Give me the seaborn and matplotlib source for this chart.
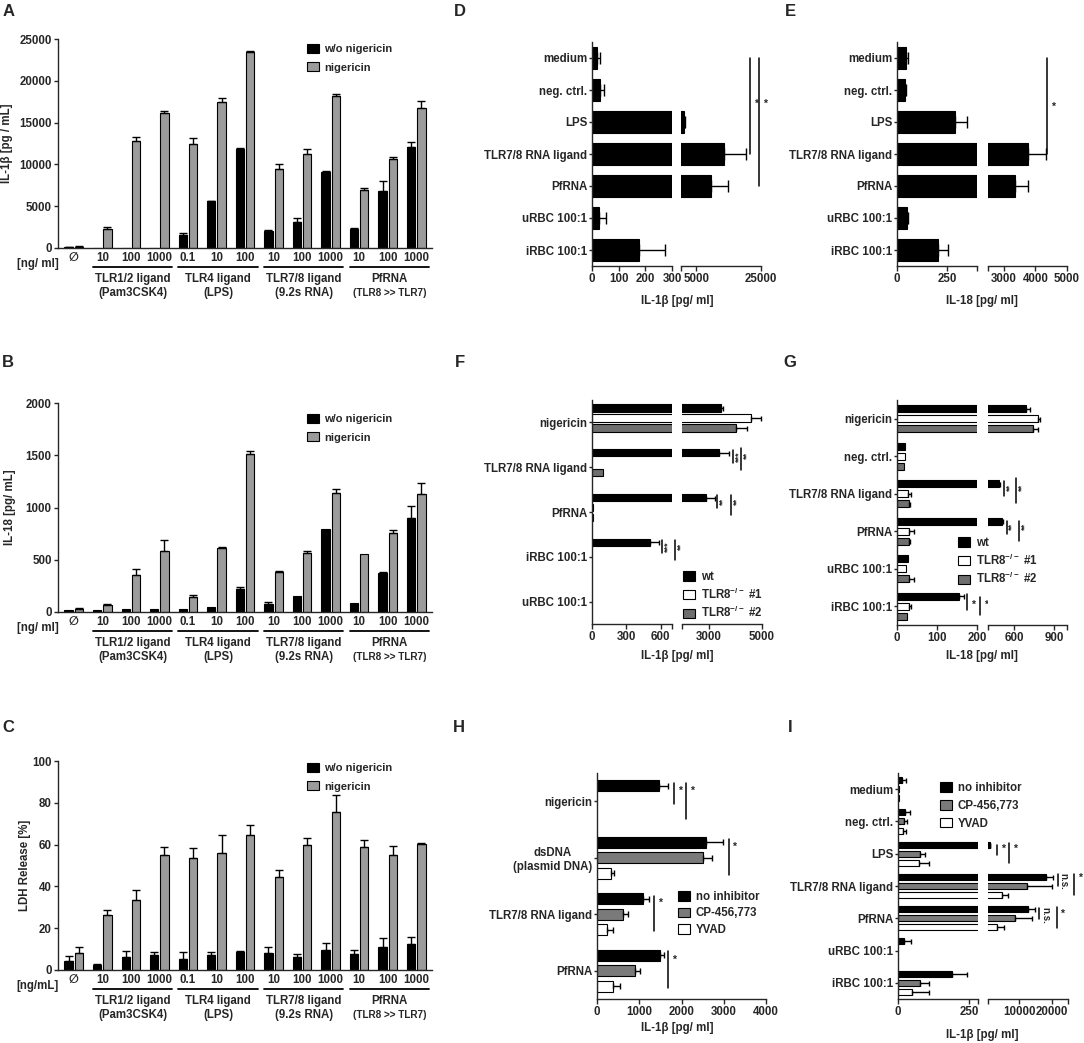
import numpy as np
import pandas as pd
import matplotlib
matplotlib.use('Agg')
import matplotlib.pyplot as plt
import matplotlib.transforms as mtransforms
from matplotlib.patches import Patch
import seaborn as sns

# ---------------- data ----------------
# A-C: 13 stimulation conditions, without / with nigericin
conditions = ['none', 'P10', 'P100', 'P1000', 'L0.1', 'L10', 'L100',
              'R10', 'R100', 'R1000', 'Pf10', 'Pf100', 'Pf1000']
conc_labels = ['\u2205', '10', '100', '1000', '0.1', '10', '100',
               '10', '100', '1000', '10', '100', '1000']
ligand_groups = [('TLR1/2 ligand', '(Pam3CSK4)'), ('TLR4 ligand', '(LPS)'),
                 ('TLR7/8 ligand', '(9.2s RNA)'), ('PfRNA', '(TLR8 >> TLR7)')]
treat_names = ['w/o nigericin', 'nigericin']

il1b_wo = [60, 0, 20, 30, 1600, 5600, 11900, 2000, 3100, 9100, 2300, 6800, 12100]
il1b_wo_sem = [30, 0, 0, 0, 250, 60, 60, 200, 500, 60, 100, 1200, 600]
il1b_nig = [150, 2300, 12800, 16100, 12400, 17500, 23500, 9400, 11300, 18200, 6900, 10600, 16800]
il1b_nig_sem = [60, 250, 500, 300, 800, 400, 60, 600, 500, 250, 250, 300, 800]

il18_wo = [15, 20, 25, 30, 25, 45, 220, 75, 150, 790, 85, 375, 900]
il18_wo_sem = [0, 0, 0, 0, 0, 0, 20, 20, 0, 0, 0, 10, 110]
il18_nig = [30, 65, 355, 585, 140, 615, 1510, 385, 560, 1140, 555, 760, 1125]
il18_nig_sem = [5, 10, 55, 105, 20, 5, 30, 5, 25, 35, 0, 20, 110]

ldh_wo = [4.5, 2.5, 6, 7, 5.5, 7, 8.5, 8, 6, 9.5, 7.5, 11, 12.5]
ldh_wo_sem = [2, 0.5, 3, 1.5, 3, 1.5, 0.5, 3, 1.5, 3.5, 2, 4.5, 3.5]
ldh_nig = [8, 26.5, 33.5, 55, 53.5, 56, 64.5, 44.5, 60, 75.5, 59, 55, 60.5]
ldh_nig_sem = [3, 2, 5, 4, 5, 8.5, 5, 3.5, 3, 8, 3, 4.5, 0.5]

# D / E: single series
stim_cats = ['medium', 'neg. ctrl.', 'LPS', 'TLR7/8 RNA ligand', 'PfRNA',
             'uRBC 100:1', 'iRBC 100:1']
d_il1b = [17, 29, 1300, 13500, 9500, 26, 178]
d_il1b_sem = [12, 17, 300, 6900, 5250, 25, 97]
e_il18 = [43, 40, 292, 3760, 3360, 51, 207]
e_il18_sem = [10, 7, 59, 580, 400, 2, 49]

# F / G: wt vs TLR8 knockouts
ko_names = ['wt', r'TLR8$^{-/-}$ #1', r'TLR8$^{-/-}$ #2']
f_cats = ['nigericin', 'TLR7/8 RNA ligand', 'PfRNA', 'iRBC 100:1', 'uRBC 100:1']
f_wt = [3460, 3400, 2900, 509, 0]
f_wt_sem = [80, 380, 340, 74, 0]
f_ko1 = [4600, 0, 6, 0, 0]
f_ko1_sem = [350, 0, 0, 0, 0]
f_ko2 = [4030, 92, 6, 0, 0]
f_ko2_sem = [390, 0, 0, 0, 0]

g_cats = ['nigericin', 'neg. ctrl.', 'TLR7/8 RNA ligand', 'PfRNA', 'uRBC 100:1', 'iRBC 100:1']
g_wt = [691, 21, 481, 506, 28, 154]
g_wt_sem = [25, 0, 13, 7, 0, 14]
g_ko1 = [780, 19, 28, 30, 23, 29]
g_ko1_sem = [17, 0, 8, 12, 0, 7]
g_ko2 = [739, 18, 29, 29, 29, 26]
g_ko2_sem = [38, 0, 3, 3, 13, 0]

# H / I: inhibitors
inh_names = ['no inhibitor', 'CP-456,773', 'YVAD']
h_cats = ['nigericin', 'dsDNA\n(plasmid DNA)', 'TLR7/8 RNA ligand', 'PfRNA']
h_none = [1470, 2580, 1100, 1480]
h_none_sem = [220, 410, 120, 95]
h_cp = [0, 2520, 605, 890]
h_cp_sem = [0, 210, 125, 135]
h_yvad = [0, 330, 235, 370]
h_yvad_sem = [0, 80, 135, 165]

i_none = [13, 25, 920, 18100, 12760, 21, 189]
i_none_sem = [14, 17, 100, 2400, 2160, 25, 54]
i_cp = [3, 21, 78, 12250, 8540, 0, 78]
i_cp_sem = [0, 12, 18, 7700, 5350, 0, 32]
i_yvad = [3, 18, 75, 4620, 3080, 0, 48]
i_yvad_sem = [0, 10, 35, 1760, 2160, 0, 62]

# ---------------- style ----------------
sns.set_style('ticks')
plt.rcParams['font.family'] = ['Liberation Sans', 'DejaVu Sans']
plt.rcParams['font.weight'] = 'bold'
plt.rcParams['axes.labelweight'] = 'bold'
plt.rcParams['font.size'] = 8.3
plt.rcParams['mathtext.fontset'] = 'custom'
plt.rcParams['mathtext.rm'] = 'Liberation Sans:bold'
plt.rcParams['mathtext.default'] = 'rm'
plt.rcParams['axes.linewidth'] = 1.0
plt.rcParams['xtick.major.width'] = 1.0
plt.rcParams['ytick.major.width'] = 1.0

W, H = 1084, 1043
fig = plt.figure(figsize=(W / 100, H / 100), dpi=100)


def add_ax(left, top, width, height):
    return fig.add_axes([left / W, 1 - (top + height) / H, width / W, height / H])


def legend_at(handles, x, y, size=8, spacing=0.5):
    fig.legend(handles=handles, loc='upper left', bbox_to_anchor=(x / W, 1 - y / H),
               frameon=False, fontsize=size, handlelength=1.05, handleheight=0.9,
               handletextpad=0.5, labelspacing=spacing, borderpad=0, borderaxespad=0)


def patches(names, colors):
    return [Patch(facecolor=c, edgecolor='black', linewidth=0.8, label=n)
            for n, c in zip(names, colors)]


col_colors = ['black', '#9b9b9b']


def column_panel(top, wo, wo_sem, nig, nig_sem, ymax, ystep, ylabel, unit, ylab_x):
    ax = add_ax(58, top, 374, 209)
    df = pd.DataFrame({'condition': conditions * 2,
                       'value': wo + nig,
                       'treatment': [treat_names[0]] * 13 + [treat_names[1]] * 13})
    sns.barplot(data=df, x='condition', y='value', hue='treatment', order=conditions,
                hue_order=treat_names, palette=col_colors, saturation=1,
                width=0.72, gap=0.2, edgecolor='black', linewidth=0.8,
                errorbar=None, legend=False, ax=ax)
    for cont, sems in zip(ax.containers, [wo_sem, nig_sem]):
        for bar in cont:
            xc = bar.get_x() + bar.get_width() / 2
            s = sems[int(round(xc))]
            if s > 0:
                ax.errorbar(xc, bar.get_height(), yerr=[[0], [s]], fmt='none',
                            ecolor='black', elinewidth=1.0, capsize=2.8, capthick=1.0)
    ax.set_xlim(-0.55, 12.55)
    ax.set_ylim(0, ymax)
    ax.set_yticks(np.arange(0, ymax + 1, ystep))
    ax.set_xticks(range(13))
    ax.set_xticklabels(conc_labels)
    ax.tick_params(axis='x', length=0, pad=3)
    ax.tick_params(axis='y', length=3, pad=1.5)
    ax.set_xlabel('')
    ax.set_ylabel(ylabel)
    ax.yaxis.set_label_coords(ylab_x, 0.5)
    sns.despine(ax=ax)

    trans = mtransforms.blended_transform_factory(ax.transData, ax.transAxes)
    ax.text(0.003, -16 / 209, unit, transform=ax.transAxes, ha='right', va='center')
    for g, (name, sub) in enumerate(ligand_groups):
        a, b = 3 * g + 1, 3 * g + 3
        ax.plot([a - 0.33, b + 0.45], [-19 / 209, -19 / 209], color='black', lw=1.3,
                transform=trans, clip_on=False)
        cx = (a + b) / 2 + 0.06
        ax.text(cx, -31 / 209, name, transform=trans, ha='center', va='center')
        ax.text(cx, -45 / 209, sub, transform=trans, ha='center', va='center',
                fontsize=7.2 if g == 3 else 8.3)
    return ax


def hbar_panel(top, bottom, segs, cats, series, sems, names, colors, width, gap, cap,
               off=0.0):
    n = len(cats)
    axes = []
    for k, (x0, x1, lo, hi, ticks, labels) in enumerate(segs):
        ax = add_ax(x0, top, x1 - x0, bottom - top)
        if names is None:
            df = pd.DataFrame({'cat': cats, 'value': series[0]})
            sns.barplot(data=df, x='value', y='cat', order=cats, orient='h',
                        color=colors[0], saturation=1, width=width,
                        edgecolor='black', linewidth=0.8, errorbar=None, ax=ax)
        else:
            df = pd.DataFrame({'cat': cats * len(names),
                               'value': [v for s in series for v in s],
                               'group': np.repeat(names, n)})
            sns.barplot(data=df, x='value', y='cat', hue='group', order=cats,
                        hue_order=names, orient='h', palette=colors, saturation=1,
                        width=width, gap=gap, edgecolor='black', linewidth=0.8,
                        errorbar=None, legend=False, ax=ax)
        for cont, sem in zip(ax.containers, sems):
            for bar in cont:
                yc = bar.get_y() + bar.get_height() / 2
                v = bar.get_width()
                s = sem[int(round(yc))]
                if v <= lo:
                    # bar lies entirely below this axis segment
                    bar.set_visible(False)
                # only draw the error bar on the segment it falls in
                if s > 0 and v + s > lo and v < hi:
                    ax.errorbar(v, yc, xerr=[[0], [s]], fmt='none',
                                ecolor='black', elinewidth=1.0, capsize=cap, capthick=1.0)
        ax.set_xlim(lo, hi)
        ax.set_ylim(n - 0.5 + off, -0.5 + off)
        ax.set_xticks(ticks)
        ax.set_xticklabels(labels)
        ax.tick_params(axis='x', length=3.5, pad=1.5)
        ax.set_xlabel('')
        ax.set_ylabel('')
        sns.despine(ax=ax)
        if k == 0:
            ax.set_yticks(np.arange(n) + off)
            ax.set_yticklabels(cats)
            ax.tick_params(axis='y', length=2.5, pad=1)
            for t in ax.get_yticklabels():
                t.set_multialignment('center')
        else:
            ax.set_yticks([])
            ax.spines['left'].set_visible(False)
        axes.append(ax)
    return axes


def sig(ax, x, y0, y1, label, ty, rot=0, size=7.5):
    ax.plot([x, x], [y0, y1], color='black', lw=1.1, clip_on=False)
    ax.annotate(label, xy=(x, ty), xytext=(4.2, 0), textcoords='offset points',
                ha='center', va='center', rotation=rot, fontsize=size,
                annotation_clip=False)


# ---------------- A-C ----------------
column_panel(39, il1b_wo, il1b_wo_sem, il1b_nig, il1b_nig_sem, 25000, 5000,
             'IL-1\u03b2 [pg / mL]', '[ng/ ml]', -0.120)
legend_at(patches(treat_names, col_colors), 307, 44, spacing=0.7)
column_panel(403, il18_wo, il18_wo_sem, il18_nig, il18_nig_sem, 2000, 500,
             'IL-18 [pg/ mL]', '[ng/ ml]', -0.112)
legend_at(patches(treat_names, col_colors), 307, 414, spacing=0.7)
column_panel(761, ldh_wo, ldh_wo_sem, ldh_nig, ldh_nig_sem, 100, 20,
             'LDH Release [%]', '[ng/mL]', -0.072)
legend_at(patches(treat_names, col_colors), 307, 763, spacing=0.7)

# ---------------- D ----------------
d_axes = hbar_panel(42, 266,
                    [(592, 672, 0, 300, [0, 100, 200, 300], ['0', '100', '200', '300']),
                     (681, 761, 300, 25000, [300, 5000, 25000], ['', '5000', '25000'])],
                    stim_cats, [d_il1b], [d_il1b_sem], None, ['black'], 0.69, 0, 4.5)
sig(d_axes[1], 21600, 0, 3, '*', 1.43)
sig(d_axes[1], 24500, 0, 4, '*', 1.43)
fig.text(677 / W, 1 - 301 / H, 'IL-1\u03b2 [pg/ ml]', ha='center', va='center')

# ---------------- E ----------------
e_axes = hbar_panel(42, 266,
                    [(897, 977, 0, 400, [0, 250, 400], ['0', '250', '']),
                     (988, 1067, 2500, 5000, [2500, 3000, 4000, 5000],
                      ['', '3000', '4000', '5000'])],
                    stim_cats, [e_il18], [e_il18_sem], None, ['black'], 0.69, 0, 4.5)
sig(e_axes[1], 4380, 0, 3, '*', 1.52)
fig.text(982 / W, 1 - 301 / H, 'IL-18 [pg/ ml]', ha='center', va='center')

# ---------------- F ----------------
ko_colors = ['black', 'white', '#6e6e6e']
f_axes = hbar_panel(400, 624,
                    [(592, 672, 0, 700, [0, 300, 600, 700], ['0', '300', '600', '']),
                     (682, 762, 2000, 5000, [2000, 3000, 5000], ['', '3000', '5000'])],
                    f_cats, [f_wt, f_ko1, f_ko2], [f_wt_sem, f_ko1_sem, f_ko2_sem],
                    ko_names, ko_colors, 0.67, 0.27, 1.8, off=0.1)
sig(f_axes[1], 3900, 0.72, 1.01, '***', 0.87, rot=90, size=6.5)
sig(f_axes[1], 4210, 0.68, 1.16, '**', 0.83, rot=90, size=6.5)
sig(f_axes[1], 3325, 1.72, 2.01, '**', 1.87, rot=90, size=6.5)
sig(f_axes[1], 3825, 1.72, 2.16, '**', 1.87, rot=90, size=6.5)
sig(f_axes[0], 612, 2.72, 3.01, '***', 2.87, rot=90, size=6.5)
sig(f_axes[0], 724, 2.72, 3.18, '**', 2.87, rot=90, size=6.5)
legend_at(patches(ko_names, ko_colors), 683, 571, size=8.3, spacing=0.3)
fig.text(677 / W, 1 - 656 / H, 'IL-1\u03b2 [pg/ ml]', ha='center', va='center')

# ---------------- G ----------------
g_axes = hbar_panel(400, 625,
                    [(897, 977, 0, 200, [0, 100, 200], ['0', '100', '200']),
                     (988, 1067, 400, 1000, [400, 600, 900, 1000], ['', '600', '900', ''])],
                    g_cats, [g_wt, g_ko1, g_ko2], [g_wt_sem, g_ko1_sem, g_ko2_sem],
                    ko_names, ko_colors, 0.8, 0.33, 1.8)
sig(g_axes[1], 524, 1.65, 2.06, '**', 1.84, rot=90, size=6.5)
sig(g_axes[1], 616, 1.58, 2.24, '**', 1.84, rot=90, size=6.5)
sig(g_axes[1], 541, 2.72, 3.08, '**', 2.86, rot=90, size=6.5)
sig(g_axes[1], 634, 2.72, 3.25, '**', 2.86, rot=90, size=6.5)
sig(g_axes[0], 175, 4.67, 5.09, '*', 4.95)
sig(g_axes[0], 208, 4.76, 5.24, '*', 4.95)
legend_at(patches(ko_names, ko_colors), 958, 537, size=8.3, spacing=0.3)
fig.text(982 / W, 1 - 656 / H, 'IL-18 [pg/ ml]', ha='center', va='center')

# ---------------- H ----------------
inh_colors = ['black', '#7a7a7a', 'white']
h_axes = hbar_panel(773, 999,
                    [(597, 766, 0, 4000, [0, 1000, 2000, 3000, 4000],
                      ['0', '1000', '2000', '3000', '4000'])],
                    h_cats, [h_none, h_cp, h_yvad], [h_none_sem, h_cp_sem, h_yvad_sem],
                    inh_names, inh_colors, 0.82, 0.27, 2.5)
sig(h_axes[0], 1825, -0.33, 0.05, '*', -0.18)
sig(h_axes[0], 2110, -0.33, 0.31, '*', -0.18)
sig(h_axes[0], 3115, 0.67, 1.31, '*', 0.80)
sig(h_axes[0], 1350, 1.67, 2.29, '*', 1.79)
sig(h_axes[0], 1690, 2.65, 3.31, '*', 2.81)
legend_at(patches(inh_names, inh_colors), 678, 891, size=8.3, spacing=0.38)
fig.text(677 / W, 1 - 1028 / H, 'IL-1\u03b2 [pg/ ml]', ha='center', va='center')

# ---------------- I ----------------
i_axes = hbar_panel(773, 999,
                    [(898, 978, 0, 280, [0, 250, 280], ['0', '250', '']),
                     (988, 1068, 300, 25000, [300, 10000, 20000, 25000],
                      ['', '10000', '20000', ''])],
                    stim_cats, [i_none, i_cp, i_yvad], [i_none_sem, i_cp_sem, i_yvad_sem],
                    inh_names, inh_colors, 0.85, 0.35, 1.8)
sig(i_axes[1], 2990, 1.73, 2.04, '*', 1.84)
sig(i_axes[1], 6900, 1.68, 2.30, '*', 1.84)
sig(i_axes[1], 21800, 2.64, 3.00, 'n.s.', 2.87, rot=-90, size=7)
sig(i_axes[1], 26800, 2.64, 3.28, '*', 2.76)
sig(i_axes[1], 16100, 3.67, 4.03, 'n.s.', 3.90, rot=-90, size=7)
sig(i_axes[1], 21500, 3.64, 4.31, '*', 3.85)
legend_at(patches(inh_names, inh_colors), 940, 782, size=8.3)
fig.text(982 / W, 1 - 1035 / H, 'IL-1\u03b2 [pg/ ml]', ha='center', va='center')

# ---------------- panel letters ----------------
for letter, x, y in [('A', 9, 12), ('D', 460, 12), ('E', 790, 12),
                     ('B', 8, 363), ('F', 460, 363), ('G', 790, 363),
                     ('C', 8, 727), ('H', 459, 727), ('I', 790, 727)]:
    fig.text(x / W, 1 - y / H, letter, ha='center', va='center', fontsize=12,
             fontweight='bold')

fig.savefig('out.png', dpi=100)
